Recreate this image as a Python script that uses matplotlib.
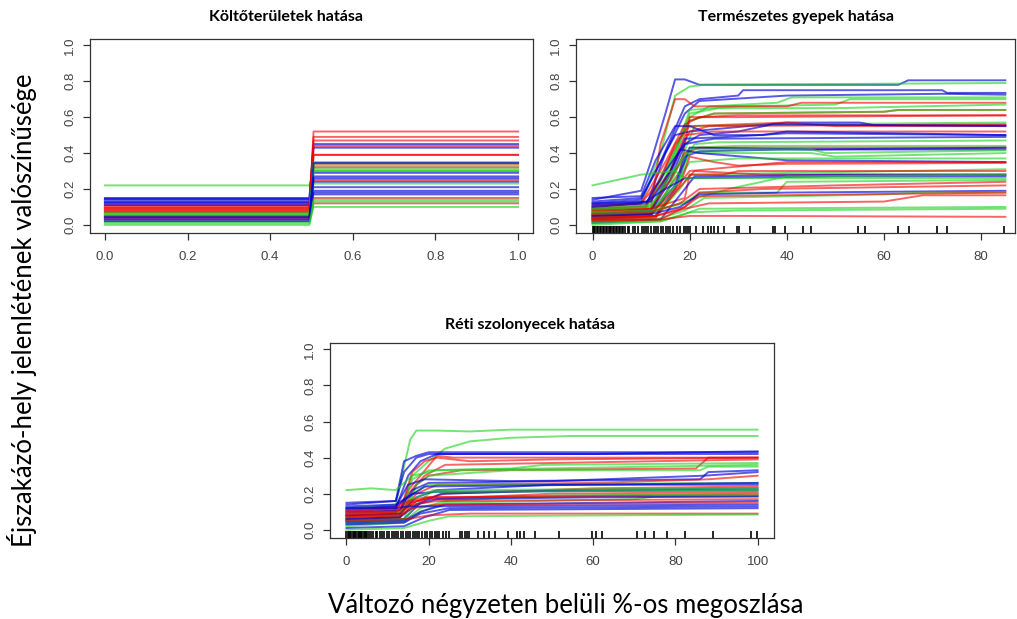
import matplotlib
matplotlib.use('Agg')
import matplotlib.pyplot as plt

plt.rcParams['font.family'] = ['Liberation Sans', 'DejaVu Sans']

# line colours (semi-transparent, like the R ICE plot)
pal = {'r': (0.95, 0.0, 0.0, 0.6), 'g': (0.1, 0.82, 0.1, 0.6), 'b': (0.0, 0.0, 0.85, 0.65)}
line_w = 1.4

y_ticks = [0.0, 0.2, 0.4, 0.6, 0.8, 1.0]
y_labels = ['0.0', '0.2', '0.4', '0.6', '0.8', '1.0']

# --- Költőterületek: binary predictor, value before / after the 0.5 step
p1_step_x = [0.0, 0.495, 0.505, 1.0]
p1_low = [0.22, 0.15, 0.145, 0.14, 0.13, 0.125, 0.12, 0.11, 0.11, 0.10,
          0.095, 0.09, 0.085, 0.08, 0.075, 0.07, 0.07, 0.065, 0.06, 0.055,
          0.05, 0.05, 0.045, 0.04, 0.04, 0.03, 0.03, 0.02, 0.02, 0.01, 0.0]
p1_high = [0.30, 0.45, 0.43, 0.21, 0.29, 0.19, 0.17, 0.44, 0.24, 0.39,
           0.39, 0.52, 0.49, 0.47, 0.34, 0.33, 0.32, 0.35, 0.31, 0.30,
           0.25, 0.23, 0.27, 0.15, 0.18, 0.12, 0.345, 0.14, 0.26, 0.10, 0.13]
p1_col = ['g', 'b', 'b', 'b', 'b', 'b', 'b', 'r', 'b', 'r',
          'r', 'r', 'r', 'r', 'r', 'g', 'r', 'g', 'g', 'g',
          'r', 'g', 'b', 'r', 'b', 'r', 'b', 'g', 'b', 'g', 'g']
p1_xticks = [0.0, 0.2, 0.4, 0.6, 0.8, 1.0]
p1_xlabels = ['0.0', '0.2', '0.4', '0.6', '0.8', '1.0']

# --- Természetes gyepek
p2_curves = [
    ('b', [0, 10, 12, 15, 17, 19, 22, 63, 65, 85], [0.14, 0.19, 0.35, 0.62, 0.81, 0.81, 0.78, 0.78, 0.805, 0.805]),
    ('g', [0, 10, 14, 17, 20, 23, 85], [0.10, 0.12, 0.40, 0.72, 0.77, 0.78, 0.79]),
    ('b', [0, 10, 14, 19, 22, 30, 31, 72, 73, 85], [0.12, 0.14, 0.35, 0.66, 0.70, 0.72, 0.75, 0.75, 0.735, 0.735]),
    ('b', [0, 11, 15, 19, 22, 40, 72, 85], [0.09, 0.10, 0.40, 0.62, 0.69, 0.72, 0.73, 0.725]),
    ('g', [0, 11, 16, 20, 24, 38, 41, 85], [0.06, 0.08, 0.35, 0.60, 0.66, 0.68, 0.71, 0.71]),
    ('g', [0, 12, 17, 20, 30, 50, 53, 85], [0.05, 0.07, 0.40, 0.64, 0.66, 0.67, 0.70, 0.70]),
    ('r', [0, 12, 14, 17, 19, 21, 40, 43, 85], [0.07, 0.09, 0.45, 0.70, 0.70, 0.66, 0.66, 0.68, 0.68]),
    ('g', [0, 12, 16, 20, 26, 50, 85], [0.04, 0.06, 0.30, 0.62, 0.65, 0.65, 0.67]),
    ('r', [0, 11, 16, 20, 25, 60, 63, 85], [0.08, 0.10, 0.38, 0.58, 0.62, 0.63, 0.64, 0.64]),
    ('g', [0, 11, 16, 20, 25, 60, 63, 85], [0.085, 0.10, 0.36, 0.58, 0.62, 0.63, 0.64, 0.64]),
    ('r', [0, 12, 18, 20, 30, 85], [0.03, 0.05, 0.30, 0.60, 0.60, 0.61]),
    ('r', [0, 10, 15, 19, 22, 30, 85], [0.11, 0.12, 0.35, 0.56, 0.60, 0.61, 0.61]),
    ('g', [0, 13, 18, 21, 40, 85], [0.02, 0.04, 0.35, 0.55, 0.56, 0.57]),
    ('b', [0, 10, 13, 17, 20, 40, 55, 58, 85], [0.13, 0.15, 0.30, 0.50, 0.52, 0.57, 0.57, 0.555, 0.555]),
    ('r', [0, 10, 14, 17, 20, 40, 50, 85], [0.10, 0.12, 0.25, 0.45, 0.55, 0.57, 0.55, 0.55]),
    ('r', [0, 12, 16, 20, 24, 85], [0.07, 0.08, 0.30, 0.52, 0.55, 0.56]),
    ('b', [0, 12, 16, 19, 22, 30, 37, 85], [0.05, 0.07, 0.25, 0.45, 0.50, 0.52, 0.56, 0.55]),
    ('r', [0, 11, 16, 19, 25, 85], [0.09, 0.11, 0.30, 0.50, 0.52, 0.52]),
    ('b', [0, 10, 13, 17, 20, 25, 35, 40, 85], [0.15, 0.16, 0.36, 0.55, 0.55, 0.50, 0.50, 0.52, 0.50]),
    ('b', [0, 12, 16, 19, 28, 40, 85], [0.06, 0.08, 0.28, 0.48, 0.49, 0.51, 0.50]),
    ('b', [0, 11, 15, 19, 25, 85], [0.10, 0.12, 0.30, 0.45, 0.48, 0.49]),
    ('g', [0, 12, 17, 21, 26, 85], [0.05, 0.06, 0.25, 0.45, 0.46, 0.47]),
    ('g', [0, 12, 16, 20, 30, 85], [0.09, 0.11, 0.25, 0.43, 0.44, 0.44]),
    ('r', [0, 12, 16, 19, 22, 62, 85], [0.07, 0.09, 0.25, 0.40, 0.43, 0.43, 0.43]),
    ('b', [0, 13, 17, 20, 45, 85], [0.03, 0.05, 0.20, 0.43, 0.42, 0.43]),
    ('b', [0, 12, 17, 19, 22, 40, 85], [0.04, 0.06, 0.22, 0.38, 0.41, 0.42, 0.42]),
    ('g', [0, 12, 16, 20, 45, 48, 85], [0.08, 0.10, 0.28, 0.42, 0.42, 0.40, 0.415]),
    ('g', [0, 13, 18, 20, 45, 50, 85], [0.03, 0.05, 0.25, 0.40, 0.40, 0.38, 0.40]),
    ('b', [0, 12, 16, 18, 22, 40, 85], [0.11, 0.13, 0.30, 0.42, 0.40, 0.36, 0.35]),
    ('g', [0, 12, 17, 20, 30, 85], [0.06, 0.07, 0.22, 0.35, 0.37, 0.37]),
    ('r', [0, 12, 17, 20, 28, 40, 85], [0.05, 0.06, 0.20, 0.30, 0.32, 0.35, 0.35]),
    ('r', [0, 13, 18, 20, 25, 30, 40, 85], [0.02, 0.04, 0.22, 0.38, 0.35, 0.33, 0.34, 0.345]),
    ('g', [0, 13, 18, 20, 85], [0.04, 0.05, 0.20, 0.28, 0.31]),
    ('r', [0, 12, 19, 20, 27, 30, 85], [0.08, 0.09, 0.15, 0.28, 0.28, 0.30, 0.30]),
    ('r', [0, 13, 17, 21, 35, 85], [0.04, 0.05, 0.18, 0.30, 0.28, 0.28]),
    ('b', [0, 14, 19, 21, 50, 85], [0.01, 0.03, 0.20, 0.27, 0.28, 0.28]),
    ('b', [0, 11, 15, 19, 50, 85], [0.12, 0.13, 0.20, 0.26, 0.27, 0.27]),
    ('g', [0, 5, 10, 17, 19, 30, 85], [0.22, 0.25, 0.28, 0.30, 0.26, 0.26, 0.26]),
    ('g', [0, 12, 18, 24, 28, 40, 85], [0.06, 0.07, 0.12, 0.17, 0.20, 0.27, 0.28]),
    ('g', [0, 12, 19, 22, 38, 40, 85], [0.07, 0.08, 0.12, 0.18, 0.18, 0.24, 0.25]),
    ('r', [0, 12, 18, 22, 50, 85], [0.06, 0.07, 0.12, 0.20, 0.22, 0.24]),
    ('r', [0, 13, 19, 22, 35, 85], [0.03, 0.05, 0.10, 0.18, 0.20, 0.22]),
    ('b', [0, 12, 18, 22, 40, 85], [0.05, 0.06, 0.10, 0.17, 0.18, 0.19]),
    ('g', [0, 13, 19, 23, 60, 68, 85], [0.02, 0.03, 0.08, 0.15, 0.17, 0.18, 0.18]),
    ('r', [0, 14, 19, 22, 85], [0.02, 0.03, 0.10, 0.16, 0.18]),
    ('r', [0, 13, 19, 24, 60, 68, 85], [0.04, 0.05, 0.09, 0.12, 0.13, 0.165, 0.165]),
    ('g', [0, 14, 19, 22, 85], [0.01, 0.02, 0.06, 0.09, 0.10]),
    ('g', [0, 14, 20, 30, 85], [0.0, 0.02, 0.07, 0.08, 0.09]),
    ('r', [0, 14, 20, 30, 85], [0.03, 0.03, 0.05, 0.05, 0.045]),
]
p2_rug = [0, 0.3, 0.6, 0.9, 1.2, 1.5, 1.8, 2.1, 2.4, 2.7, 3.0, 3.3, 3.6, 3.9, 4.2, 4.5,
          4.8, 5.1, 5.4, 5.7, 6.0, 6.3, 6.6, 7.2, 7.6, 8.3, 8.7, 9.4, 10.2, 10.6, 11.1,
          11.5, 12.0, 12.6, 13.0, 13.5, 14.1, 14.6, 15.2, 15.5, 16.0, 16.6, 17.3, 18.1,
          18.8, 19.2, 19.6, 20.0, 21.3, 22.7, 23.7, 24.4, 25.1, 25.8, 27.1, 29.7, 30.2,
          32.5, 37.1, 37.6, 39.7, 43.3, 45.0, 54.6, 56.0, 62.8, 65.1, 70.9, 72.9, 84.7]
p2_xticks = [0, 20, 40, 60, 80]

# --- Réti szolonyecek
p3_curves = [
    ('g', [0, 12, 14, 15.5, 17, 22, 30, 40, 100], [0.12, 0.14, 0.35, 0.50, 0.55, 0.55, 0.545, 0.555, 0.555]),
    ('g', [0, 13, 16, 20, 24, 30, 40, 55, 100], [0.07, 0.09, 0.30, 0.38, 0.45, 0.49, 0.51, 0.52, 0.52]),
    ('b', [0, 12, 14, 17, 20, 60, 85, 100], [0.14, 0.16, 0.32, 0.40, 0.42, 0.42, 0.43, 0.435]),
    ('b', [0, 12, 15, 18, 22, 70, 100], [0.10, 0.12, 0.30, 0.38, 0.42, 0.42, 0.42]),
    ('b', [0, 12, 14, 17, 20, 100], [0.15, 0.16, 0.38, 0.41, 0.43, 0.43]),
    ('r', [0, 13, 16, 19, 22, 30, 50, 100], [0.08, 0.10, 0.32, 0.38, 0.40, 0.38, 0.39, 0.40]),
    ('r', [0, 13, 15, 18, 22, 26, 100], [0.08, 0.09, 0.22, 0.30, 0.41, 0.40, 0.40]),
    ('r', [0, 12, 15, 19, 24, 100], [0.10, 0.11, 0.20, 0.30, 0.36, 0.39]),
    ('r', [0, 13, 17, 20, 28, 85, 88, 100], [0.05, 0.07, 0.25, 0.30, 0.33, 0.34, 0.40, 0.40]),
    ('g', [0, 13, 16, 20, 40, 48, 100], [0.06, 0.08, 0.28, 0.33, 0.34, 0.36, 0.37]),
    ('g', [0, 14, 17, 20, 40, 86, 88, 100], [0.04, 0.06, 0.25, 0.30, 0.33, 0.33, 0.35, 0.35]),
    ('g', [0, 6, 12, 16, 22, 100], [0.22, 0.23, 0.22, 0.30, 0.33, 0.36]),
    ('b', [0, 12, 15, 19, 40, 86, 88, 100], [0.11, 0.13, 0.25, 0.28, 0.27, 0.28, 0.32, 0.33]),
    ('b', [0, 13, 16, 20, 50, 87, 100], [0.09, 0.11, 0.22, 0.26, 0.27, 0.30, 0.32]),
    ('r', [0, 13, 17, 22, 60, 88, 100], [0.07, 0.08, 0.20, 0.25, 0.26, 0.28, 0.30]),
    ('g', [0, 13, 16, 20, 100], [0.06, 0.07, 0.20, 0.25, 0.26]),
    ('b', [0, 12, 15, 19, 100], [0.12, 0.13, 0.18, 0.24, 0.26]),
    ('b', [0, 13, 17, 22, 50, 100], [0.08, 0.09, 0.18, 0.22, 0.25, 0.25]),
    ('r', [0, 13, 17, 24, 60, 100], [0.06, 0.07, 0.16, 0.20, 0.23, 0.24]),
    ('b', [0, 14, 18, 23, 55, 100], [0.05, 0.06, 0.15, 0.20, 0.22, 0.23]),
    ('g', [0, 14, 17, 21, 100], [0.05, 0.06, 0.14, 0.22, 0.23]),
    ('b', [0, 12, 16, 22, 100], [0.13, 0.14, 0.20, 0.21, 0.22]),
    ('g', [0, 13, 16, 20, 100], [0.09, 0.10, 0.17, 0.21, 0.22]),
    ('r', [0, 12, 15, 20, 50, 100], [0.10, 0.10, 0.15, 0.17, 0.20, 0.21]),
    ('r', [0, 12, 15, 19, 100], [0.11, 0.12, 0.16, 0.18, 0.20]),
    ('g', [0, 14, 18, 24, 50, 100], [0.03, 0.05, 0.12, 0.16, 0.19, 0.20]),
    ('r', [0, 13, 16, 20, 100], [0.08, 0.09, 0.15, 0.18, 0.19]),
    ('g', [0, 14, 18, 24, 70, 75, 100], [0.02, 0.04, 0.10, 0.15, 0.17, 0.185, 0.185]),
    ('b', [0, 13, 17, 22, 60, 100], [0.06, 0.07, 0.14, 0.17, 0.18, 0.185]),
    ('r', [0, 12, 16, 22, 100], [0.09, 0.10, 0.14, 0.16, 0.17]),
    ('b', [0, 14, 18, 24, 100], [0.04, 0.05, 0.10, 0.14, 0.16]),
    ('r', [0, 13, 16, 22, 100], [0.07, 0.08, 0.12, 0.14, 0.15]),
    ('b', [0, 12, 15, 20, 100], [0.12, 0.12, 0.13, 0.13, 0.14]),
    ('b', [0, 14, 18, 25, 100], [0.03, 0.04, 0.09, 0.12, 0.13]),
    ('b', [0, 14, 19, 25, 100], [0.01, 0.02, 0.07, 0.11, 0.12]),
    ('r', [0, 15, 20, 30, 100], [0.05, 0.06, 0.08, 0.09, 0.09]),
    ('g', [0, 14, 20, 25, 100], [0.0, 0.01, 0.05, 0.075, 0.085]),
]
p3_rug = [0, 0.3, 0.6, 0.9, 1.2, 1.5, 1.8, 2.1, 2.4, 2.7, 3.0, 3.3, 3.6, 3.9, 4.2, 4.5,
          4.8, 5.1, 5.5, 6.0, 6.4, 7.1, 7.5, 8.2, 8.6, 9.2, 9.8, 10.4, 11.0, 11.6, 12.0,
          12.5, 13.2, 13.8, 14.4, 15.0, 15.4, 16.1, 16.7, 17.2, 17.7, 18.3, 19.0, 19.6,
          20.2, 20.8, 21.5, 22.0, 22.6, 23.5, 24.2, 24.9, 27.7, 28.2, 28.8, 29.3, 29.7,
          32.1, 33.4, 34.6, 36.2, 39.4, 41.5, 42.3, 43.1, 45.9, 51.8, 59.7, 60.7, 62.1,
          70.6, 72.5, 74.8, 77.9, 82.3, 89.2, 98.5, 99.8]
p3_xticks = [0, 20, 40, 60, 80, 100]


def style_axes(ax, xlim, xticks, xlabels):
    # base-R look: full box, outward ticks, vertical y labels
    ax.set_xlim(*xlim)
    ax.set_ylim(-0.045, 1.035)
    ax.set_xticks(xticks)
    ax.set_xticklabels(xlabels)
    ax.set_yticks(y_ticks)
    ax.set_yticklabels(y_labels, rotation=90, va='center')
    ax.tick_params(direction='out', length=5, width=0.9, colors='#333333',
                   labelsize=9.5, labelcolor='#444444')
    ax.tick_params(axis='x', pad=8)
    ax.tick_params(axis='y', pad=5)
    for s in ax.spines.values():
        s.set_linewidth(0.9)
        s.set_color('#333333')


def rug(ax, xs):
    ax.vlines(xs, 0, 0.035, transform=ax.get_xaxis_transform(), color='black', lw=1.2)


fig = plt.figure(figsize=(10.17, 6.19), dpi=100)

ax1 = fig.add_axes([0.0885, 0.6236, 0.4356, 0.3134])
for lo, hi, c in zip(p1_low, p1_high, p1_col):
    ax1.plot(p1_step_x, [lo, lo, hi, hi], color=pal[c], lw=line_w)
style_axes(ax1, (-0.036, 1.036), p1_xticks, p1_xlabels)

ax2 = fig.add_axes([0.5664, 0.6236, 0.4317, 0.3134])
for c, xs, ys in p2_curves:
    ax2.plot(xs, ys, color=pal[c], lw=line_w)
rug(ax2, p2_rug)
style_axes(ax2, (-3.4, 87.0), p2_xticks, [str(v) for v in p2_xticks])

ax3 = fig.add_axes([0.3245, 0.1309, 0.4366, 0.315])
for c, xs, ys in p3_curves:
    ax3.plot(xs, ys, color=pal[c], lw=line_w)
rug(ax3, p3_rug)
style_axes(ax3, (-4.0, 104.0), p3_xticks, [str(v) for v in p3_xticks])

title_kw = dict(family=['Lato', 'DejaVu Sans'], fontweight='bold', fontsize=11.5,
                ha='center', va='center')
fig.text(286 / 1017, 1 - 17 / 619, 'Költőterületek hatása', **title_kw)
fig.text(796 / 1017, 1 - 17 / 619, 'Természetes gyepek hatása', **title_kw)
fig.text(530 / 1017, 1 - 325 / 619, 'Réti szolonyecek hatása', **title_kw)

label_kw = dict(family=['Lato', 'DejaVu Sans'], fontsize=18.5, ha='center', va='center')
fig.text(22 / 1017, 1 - 310 / 619, 'Éjszakázó-hely jelenlétének valószínűsége',
         rotation=90, **label_kw)
fig.text(566 / 1017, 1 - 605 / 619, 'Változó négyzeten belüli %-os megoszlása', **label_kw)

fig.savefig('out.png', dpi=100)
